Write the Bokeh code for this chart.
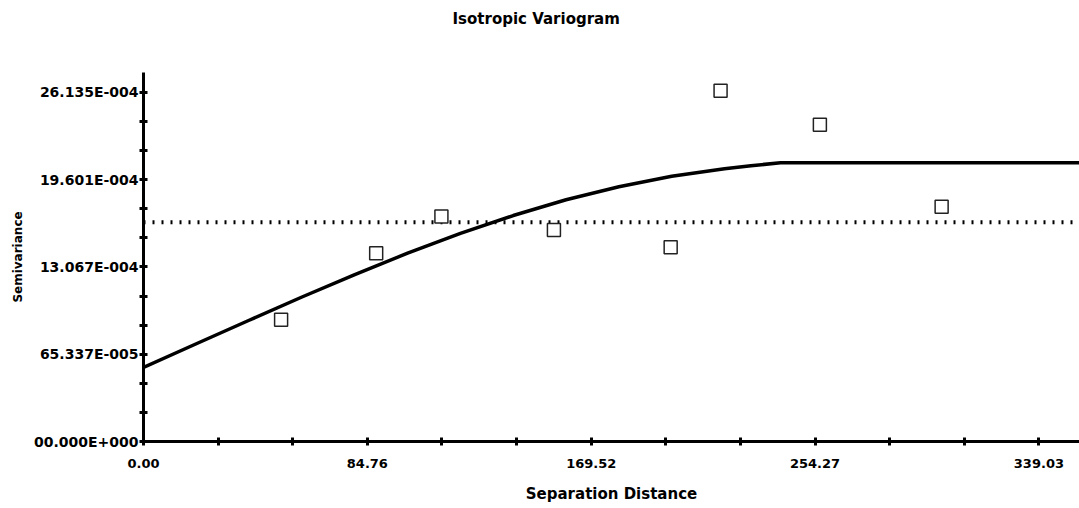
from bokeh.plotting import figure
from bokeh.models import FixedTicker, Range1d
from bokeh.embed import file_html
from bokeh.resources import INLINE

# Experimental variogram points
lag_distance = [52.1, 88.1, 112.8, 155.4, 199.6, 218.5, 256.1, 302.2]
semivariance = [9.11e-4, 14.09e-4, 16.84e-4, 15.84e-4, 14.54e-4, 26.26e-4, 23.72e-4, 17.58e-4]

# Model curve
model_distance = [0.0, 20.0, 40.0, 60.0, 80.0, 100.0, 120.0, 140.0, 160.0, 180.0,
                  200.0, 220.0, 230.0, 241.2, 354.4]
model_semivariance = [5.54e-4, 7.32e-4, 9.08e-4, 10.82e-4, 12.50e-4, 14.10e-4, 15.58e-4,
                      16.92e-4, 18.10e-4, 19.08e-4, 19.86e-4, 20.42e-4, 20.65e-4,
                      20.87e-4, 20.87e-4]

# Sample variance (dotted)
variance_x = [0.0, 354.4]
variance_y = [16.41e-4, 16.41e-4]

x_ticks = [0.0, 84.76, 169.52, 254.27, 339.03]
x_tick_labels = ["0.00", "84.76", "169.52", "254.27", "339.03"]
y_ticks = [0.0, 6.5337e-4, 13.067e-4, 19.601e-4, 26.135e-4]
y_tick_labels = ["00.000E+000", "65.337E-005", "13.067E-004", "19.601E-004", "26.135E-004"]

FONT = "DejaVu Sans"

p = figure(width=1079, height=508, output_backend="svg", toolbar_location=None,
           x_range=Range1d(0, 354.4), y_range=Range1d(0, 27.63e-4),
           min_border_left=143, min_border_right=0, min_border_top=72, min_border_bottom=67,
           title="Isotropic Variogram\n\n")
p.outline_line_color = None
p.xgrid.visible = False
p.ygrid.visible = False
p.background_fill_color = "white"
p.border_fill_color = "white"

p.title.text_font = FONT
p.title.text_font_size = "15px"
p.title.text_font_style = "bold"
p.title.text_color = "black"
p.title.align = "left"
p.title.offset = 309
p.title.vertical_align = "top"
p.title.standoff = 14

x_minor = []
for i in range(len(x_ticks)):
    step = 84.76 / 3
    x_minor += [x_ticks[i] + step, x_ticks[i] + 2 * step]
y_minor = []
for i in range(len(y_ticks)):
    step = 6.5337e-4 / 3
    y_minor += [y_ticks[i] + step, y_ticks[i] + 2 * step]

p.xaxis.ticker = FixedTicker(ticks=x_ticks, minor_ticks=x_minor)
p.yaxis.ticker = FixedTicker(ticks=y_ticks, minor_ticks=y_minor)
p.xaxis.major_label_overrides = {t: l for t, l in zip(x_ticks, x_tick_labels)}
p.yaxis.major_label_overrides = {t: l for t, l in zip(y_ticks, y_tick_labels)}

for ax in (p.xaxis, p.yaxis):
    ax.axis_line_width = 3
    ax.axis_line_color = "black"
    ax.major_tick_line_width = 3
    ax.minor_tick_line_width = 3
    ax.major_tick_in = 4
    ax.major_tick_out = 4
    ax.minor_tick_in = 4
    ax.minor_tick_out = 4
    ax.major_label_text_font = FONT
    ax.major_label_text_font_style = "bold"
    ax.major_label_text_color = "black"
    ax.axis_label_text_font = FONT
    ax.axis_label_text_font_style = "bold"
    ax.axis_label_text_color = "black"

p.xaxis.major_label_text_font_size = "13px"
p.yaxis.major_label_text_font_size = "14px"
p.xaxis.axis_label = "Separation Distance"
p.yaxis.axis_label = "Semivariance"
p.xaxis.axis_label_text_font_size = "15px"
p.yaxis.axis_label_text_font_size = "12px"
p.xaxis.major_label_standoff = 13
p.yaxis.major_label_standoff = 1
p.xaxis.axis_label_standoff = 14
p.yaxis.axis_label_standoff = 6

p.line(variance_x, variance_y, line_color="black", line_width=4, line_dash="2 7")
p.line(model_distance, model_semivariance, line_color="black", line_width=3.5)
p.scatter(lag_distance, semivariance, marker="square", size=13, fill_color="white",
          line_color="#222222", line_width=1.5)

open("out.html", "w").write(file_html(p, INLINE))
